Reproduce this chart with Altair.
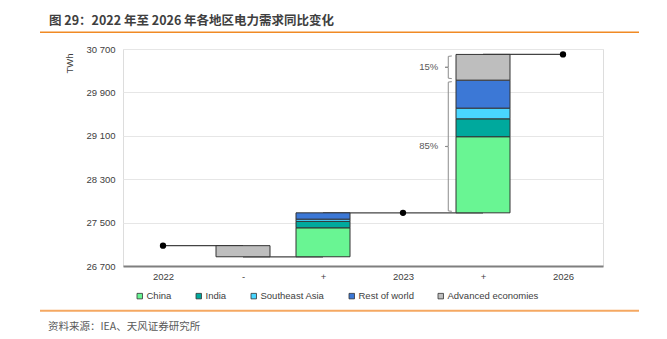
import json
import altair as alt
import pandas as pd

# ---------------- data ----------------
categories = ["2022", "-", "+", "2023", "+", "2026"]
regions = ["China", "India", "Southeast Asia", "Rest of world", "Advanced economies"]
region_colors = ["#69F593", "#00A99D", "#49D6FF", "#3C78D6", "#BEBEBE"]
total_2022 = 27075
total_2023 = 27680
total_2026 = 30600
change_2023 = [534, 118, 42, 116, -205]     # China, India, SEA, RoW, Advanced
change_2026 = [1403, 330, 197, 516, 474]
share_labels = ["85%", "15%"]
y_ticks = [26700, 27500, 28300, 29100, 29900, 30700]
title_text = "图 29：2022 年至 2026 年各地区电力需求同比变化"
source_text = "资料来源：IEA、天风证券研究所"

# ---------------- styles ----------------
W, H = 480, 217
PAD_L, PAD_T = 123, 49
HALF = 0.3375
FONT = "Liberation Sans"
CJK = "Noto Sans CJK SC"

# ---------------- build tables ----------------
rows = []
adv_drop = change_2023[4]
rows.append(dict(pos=1, region=regions[4], y0=total_2022, y1=total_2022 + adv_drop))
base = total_2022 + adv_drop
for r, v in zip(regions[:4], change_2023[:4]):
    rows.append(dict(pos=2, region=r, y0=base, y1=base + v))
    base += v
base = total_2023
seg_tops = []
for r, v in zip(regions, change_2026):
    rows.append(dict(pos=4, region=r, y0=base, y1=base + v))
    base += v
    seg_tops.append(base)
bars = pd.DataFrame(rows)
bars["x0"] = bars["pos"] - HALF
bars["x1"] = bars["pos"] + HALF
bars["ord"] = bars["region"].map({r: i for i, r in enumerate(regions)})

after_drop = total_2022 + adv_drop
connectors = pd.DataFrame(dict(
    xa=[0, 1, 2, 4], xb=[1, 2, 4, 5],
    level=[total_2022, after_drop, total_2023, total_2026]))

dots = pd.DataFrame(dict(pos=[0, 3, 5], val=[total_2022, total_2023, total_2026]))

gap = 28
xl, xh, xn = 4 - 0.434, 4 - 0.39, 4 - 0.475
growth_top = seg_tops[3]
spans = [(total_2023 + gap, growth_top - gap), (growth_top + gap, total_2026 - gap)]
brace_rows = []
lab_rows = []
for b, (lo, hi) in enumerate(spans):
    mid = (lo + hi) / 2
    pts = [(xh, hi), (xl, hi - 8), (xl, mid + 4), (xn, mid), (xl, mid - 4), (xl, lo + 8), (xh, lo)]
    for k, (px, py) in enumerate(pts):
        brace_rows.append(dict(brace=b, k=k, bx=px, by=py))
    lab_rows.append(dict(lx=4 - 0.56, ly=mid, txt=share_labels[b]))
braces = pd.DataFrame(brace_rows)
blabels = pd.DataFrame(lab_rows)

one = pd.DataFrame({"a": [0]})

xscale = alt.Scale(domain=[-0.5, 5.5], nice=False, zero=False)
yscale = alt.Scale(domain=[26700, 30700], nice=False, zero=False)

x_axis = alt.Axis(values=list(range(len(categories))),
                  labelExpr=json.dumps(categories) + "[datum.value]",
                  grid=False, ticks=False, domainColor="#7F7F7F", domainWidth=2,
                  labelPadding=5, labelFontSize=9.5, labelFont=FONT, labelColor="#404040",
                  title=None)
y_axis = alt.Axis(values=y_ticks,
                  labelExpr="replace(format(datum.value, ','), ',', ' ')",
                  grid=True, gridColor="#E6E6E6", gridWidth=1, domain=False, ticks=False,
                  labelPadding=8, labelFontSize=9.5, labelFont=FONT, labelColor="#404040",
                  title="TWh", titleFont=FONT, titleFontSize=9.5, titleFontWeight="normal",
                  titleColor="#404040", titleAngle=270, titleAlign="right",
                  titleBaseline="middle", titleX=-54, titleY=4)

conn = alt.Chart(connectors).mark_rule(color="#444444", strokeWidth=1.3).encode(
    x=alt.X("xa:Q", scale=xscale, axis=x_axis), x2="xb:Q",
    y=alt.Y("level:Q", scale=yscale, axis=y_axis))

bar = alt.Chart(bars).mark_bar(stroke="#333333", strokeWidth=1).encode(
    x=alt.X("x0:Q", scale=xscale, axis=x_axis), x2="x1:Q",
    y=alt.Y("y0:Q", scale=yscale, axis=y_axis), y2="y1:Q",
    color=alt.Color("region:N", scale=alt.Scale(domain=regions, range=region_colors),
                    legend=alt.Legend(title=None, orient="none", legendX=12, legendY=242,
                                      direction="horizontal", symbolType="square",
                                      symbolSize=30, symbolStrokeColor="#333333",
                                      symbolStrokeWidth=0.8, labelFont=FONT,
                                      labelFontSize=9.5, labelColor="#404040",
                                      labelOffset=2, columnPadding=22, padding=0)),
    order="ord:Q")

dot = alt.Chart(dots).mark_circle(color="black", opacity=1, size=40).encode(
    x=alt.X("pos:Q", scale=xscale, axis=x_axis),
    y=alt.Y("val:Q", scale=yscale, axis=y_axis))

brace = alt.Chart(braces).mark_line(color="#8C8C8C", strokeWidth=1).encode(
    x=alt.X("bx:Q", scale=xscale, axis=x_axis),
    y=alt.Y("by:Q", scale=yscale, axis=y_axis),
    detail="brace:N", order="k:Q")

blab = alt.Chart(blabels).mark_text(align="right", baseline="middle", font=FONT,
                                    fontSize=9.5, color="#595959").encode(
    x=alt.X("lx:Q", scale=xscale, axis=x_axis),
    y=alt.Y("ly:Q", scale=yscale, axis=y_axis),
    text="txt:N")

top_line = alt.Chart(one).mark_rule(color="#F08A24", strokeWidth=1.5).encode(
    x=alt.value(40 - PAD_L), x2=alt.value(639 - PAD_L), y=alt.value(32.3 - PAD_T))
bot_line = alt.Chart(one).mark_rule(color="#F5A862", strokeWidth=2).encode(
    x=alt.value(40 - PAD_L), x2=alt.value(639 - PAD_L), y=alt.value(310.7 - PAD_T))
title = alt.Chart(one).mark_text(align="left", baseline="alphabetic", font=CJK,
                                 fontSize=12.5, fontWeight="bold", color="#3F3F3F").encode(
    x=alt.value(49 - PAD_L), y=alt.value(25 - PAD_T), text=alt.value(title_text))
source = alt.Chart(one).mark_text(align="left", baseline="alphabetic", font=CJK,
                                  fontSize=10.5, color="#595959").encode(
    x=alt.value(48 - PAD_L), y=alt.value(330 - PAD_T), text=alt.value(source_text))

chart = alt.layer(conn, bar, dot, brace, blab, top_line, bot_line, title, source).properties(
    width=W, height=H,
    autosize=alt.AutoSizeParams(type="none"),
    padding={"left": PAD_L, "top": PAD_T, "right": 667 - PAD_L - W, "bottom": 339 - PAD_T - H},
).configure_view(strokeOpacity=0).configure(background="white")

chart.save("out.html", embed_options={"renderer": "svg", "actions": False})
